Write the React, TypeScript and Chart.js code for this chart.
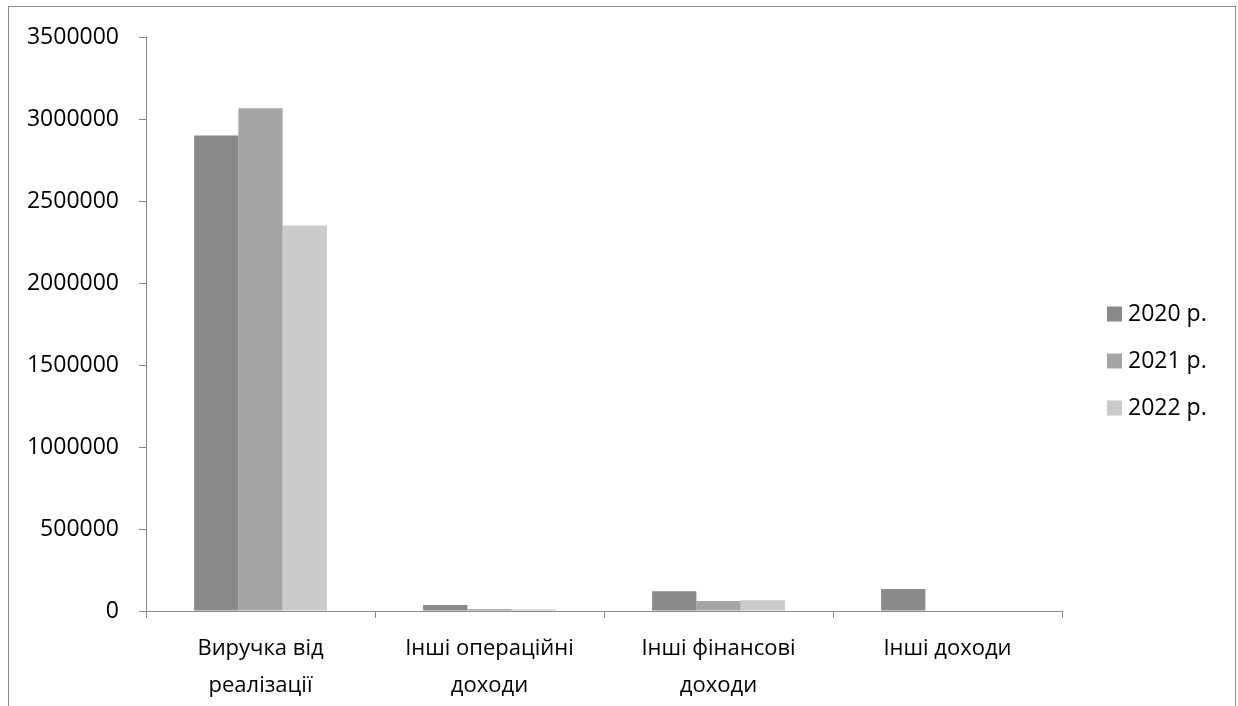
import React, { useEffect, useRef } from "react";
import { Chart, registerables } from "chart.js";

Chart.register(...registerables);

// Income categories (multi-line labels)
const categories: string[][] = [
  ["Виручка від", "реалізації"],
  ["Інші операційні", "доходи"],
  ["Інші фінансові", "доходи"],
  ["Інші доходи"],
];

const seriesLabels = ["2020 р.", "2021 р.", "2022 р."];

const values2020 = [2900000, 36000, 120000, 134000];
const values2021 = [3065000, 12000, 61000, 0];
const values2022 = [2350000, 11000, 66000, 0];

const yMin = 0;
const yMax = 3500000;
const yStep = 500000;

const seriesColors = ["#898989", "#a5a5a5", "#cbcbcb"];
const AXIS_COLOR = "#898989";
const FONT_FAMILY = "'Open Sans', 'Noto Sans', sans-serif";

// Legend drawn to the right of the plot, vertically centred on the canvas
const sideLegend = {
  id: "sideLegend",
  afterDraw(chart: any) {
    const { ctx, chartArea } = chart;
    const datasets = chart.data.datasets;
    const gap = 47;
    const box = 15;
    const midY = chart.height / 2;
    const x = chartArea.right + 45;
    ctx.save();
    ctx.font = `23px ${FONT_FAMILY}`;
    ctx.textBaseline = "middle";
    ctx.textAlign = "left";
    datasets.forEach((ds: any, i: number) => {
      const y = midY + (i - (datasets.length - 1) / 2) * gap;
      ctx.fillStyle = ds.backgroundColor;
      ctx.fillRect(x, y - box / 2, box, box);
      ctx.fillStyle = "#000000";
      ctx.fillText(ds.label, x + 21, y);
    });
    ctx.restore();
  },
};

export default function App() {
  const canvasRef = useRef<HTMLCanvasElement | null>(null);

  useEffect(() => {
    if (!canvasRef.current) return;
    const seriesValues = [values2020, values2021, values2022];
    const chart = new Chart(canvasRef.current, {
      type: "bar",
      data: {
        labels: categories,
        datasets: seriesValues.map((vals, i) => ({
          label: seriesLabels[i],
          data: vals,
          backgroundColor: seriesColors[i],
          borderWidth: 0,
          categoryPercentage: 0.58,
          barPercentage: 1,
        })),
      },
      options: {
        animation: false,
        responsive: false,
        maintainAspectRatio: false,
        layout: { padding: { left: 9, top: 30, right: 173, bottom: 0 } },
        plugins: {
          legend: { display: false },
          tooltip: { enabled: false },
        },
        scales: {
          x: {
            grid: {
              drawOnChartArea: false,
              offset: true,
              tickLength: 7,
              color: AXIS_COLOR,
            },
            border: { color: AXIS_COLOR, width: 1 },
            ticks: {
              color: "#000000",
              font: { family: FONT_FAMILY, size: 22, lineHeight: 1.68 },
              padding: 12,
              maxRotation: 0,
              autoSkip: false,
            },
            afterFit(scale: any) {
              scale.height = 104;
            },
          },
          y: {
            min: yMin,
            max: yMax,
            grid: {
              drawOnChartArea: false,
              tickLength: 7,
              color: AXIS_COLOR,
            },
            border: { color: AXIS_COLOR, width: 1 },
            ticks: {
              stepSize: yStep,
              color: "#000000",
              font: { family: FONT_FAMILY, size: 23 },
              padding: 20,
              callback: (v: any) => String(v),
            },
            afterFit(scale: any) {
              scale.width = 128;
              // the plot's top edge is set by the layout padding alone
              scale.paddingTop = 0;
              scale.paddingBottom = 0;
            },
          },
        },
      },
      plugins: [sideLegend],
    });
    return () => chart.destroy();
  }, []);

  // Framed panel; its lower edge runs past the bottom of the window, so no bottom border
  return (
    <div
      style={{
        position: "absolute",
        left: 8,
        top: 6,
        width: 1226,
        height: 699,
        borderTop: `1px solid ${AXIS_COLOR}`,
        borderLeft: `1px solid ${AXIS_COLOR}`,
        borderRight: `1px solid ${AXIS_COLOR}`,
        overflow: "hidden",
        background: "#ffffff",
      }}
    >
      <canvas ref={canvasRef} width={1226} height={708} style={{ display: "block" }} />
    </div>
  );
}
